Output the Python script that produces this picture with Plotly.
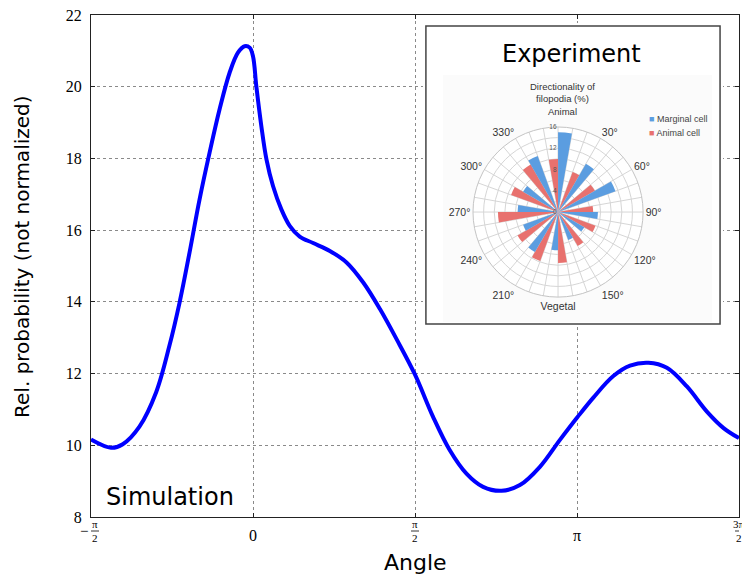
import math
import plotly.graph_objects as go

# Simulated relative probability along the angle (radians)
angle = [-1.571, -1.376, -1.263, -1.101, -0.939, -0.810, -0.712, -0.615, -0.518,
         -0.421, -0.324, -0.227, -0.146, -0.081, -0.032, 0.0, 0.032, 0.081, 0.130,
         0.194, 0.275, 0.356, 0.453, 0.583, 0.745, 0.907, 1.069, 1.231, 1.392,
         1.571, 1.745, 1.907, 2.070, 2.231, 2.410, 2.588, 2.782, 2.976, 3.145,
         3.300, 3.494, 3.656, 3.835, 4.013, 4.207, 4.401, 4.563, 4.712]
prob = [10.16, 9.93, 10.03, 10.52, 11.48, 12.78, 13.98, 15.38, 16.86,
        18.16, 19.37, 20.39, 20.95, 21.13, 21.09, 20.85, 20.02, 18.90, 17.98,
        17.23, 16.58, 16.12, 15.82, 15.64, 15.42, 15.10, 14.54, 13.80, 12.96,
        11.97, 10.80, 9.87, 9.21, 8.84, 8.73, 8.89, 9.40, 10.15, 10.78,
        11.33, 11.93, 12.22, 12.30, 12.16, 11.64, 10.94, 10.48, 10.20]

x_tick_vals = [-math.pi / 2, 0, math.pi / 2, math.pi, 3 * math.pi / 2]
x_tick_labels = ["−π/2", "0", "π/2", "π", "3π/2"]
y_tick_vals = [8, 10, 12, 14, 16, 18, 20, 22]
y_tick_labels = ["8", "10", "12", "14", "16", "18", "20", "22"]

# Experimental filopodia directionality (%), one value per 30° direction
direction_bins = [0, 30, 60, 90, 120, 150, 180, 210, 240, 270, 300, 330]
marginal_cell = [15.0, 10.5, 11.5, 7.5, 5.7, 5.6, 7.2, 8.7, 7.0, 7.6, 7.6, 11.2]
animal_cell = [10.0, 8.0, 8.0, 6.6, 7.5, 7.4, 9.6, 9.8, 8.8, 11.3, 9.4, 10.3]
compass_ticks = list(range(0, 360, 10))
compass_names = {30: "30°", 60: "60°", 90: "90°", 120: "120°", 150: "150°",
                 180: "Vegetal", 210: "210°", 240: "240°", 270: "270°",
                 300: "300°", 330: "330°"}
radial_ticks = [0, 2, 4, 6, 8, 10, 12, 14, 16]
radial_names = {0: "0", 4: "4", 8: "8", 12: "12", 16: "16"}

BLUE_BAR = "#5b9de0"
RED_BAR = "#e8716e"
SERIF = "Liberation Serif"
SANS = "DejaVu Sans"
ARIAL = "Liberation Sans"

fig = go.Figure()

fig.add_trace(go.Scatter(
    x=angle, y=prob, mode="lines",
    line=dict(color="#0000ff", width=4, shape="spline", smoothing=1.0),
    showlegend=False, hoverinfo="skip"))

# empty trace that carries the inset's frame subplot
fig.add_trace(go.Scatter(x=[], y=[], xaxis="x2", yaxis="y2",
                         showlegend=False, hoverinfo="skip"))

fig.add_trace(go.Barpolar(
    r=animal_cell, theta=[b - 5 for b in direction_bins], width=[10] * len(direction_bins),
    marker=dict(color=RED_BAR, line=dict(width=0)), name="Animal cell",
    showlegend=False, hoverinfo="skip", subplot="polar"))
fig.add_trace(go.Barpolar(
    r=marginal_cell, theta=[b + 5 for b in direction_bins], width=[10] * len(direction_bins),
    marker=dict(color=BLUE_BAR, line=dict(width=0)), name="Marginal cell",
    showlegend=False, hoverinfo="skip", subplot="polar"))

axis_common = dict(
    showline=True, linecolor="#222", linewidth=1.3, mirror="ticks",
    ticks="inside", ticklen=4, tickcolor="#222", tickwidth=1,
    showgrid=True, gridcolor="#8a8a8a", griddash="dot", gridwidth=1,
    zeroline=False)

fig.update_layout(
    width=742, height=580,
    margin=dict(l=91, r=3, t=15, b=63),
    paper_bgcolor="white", plot_bgcolor="white",
    xaxis=dict(range=[-math.pi / 2, 3 * math.pi / 2], tickmode="array",
               tickvals=x_tick_vals, showticklabels=False, domain=[0, 1], **axis_common),
    yaxis=dict(range=[8, 22], tickmode="array", tickvals=y_tick_vals,
               ticktext=y_tick_labels, ticklabelstandoff=5,
               tickfont=dict(family=SERIF, size=16, color="black"), domain=[0, 1],
               **axis_common),
    xaxis2=dict(domain=[0.5123, 0.9753], range=[-0.01, 1.01], anchor="y2", visible=False),
    yaxis2=dict(domain=[0.3785, 0.984], range=[-0.01, 1.01], anchor="x2", visible=False),
    polar=dict(
        domain=dict(x=[0.5895, 0.852], y=[0.438, 0.777]),
        bgcolor="white",
        angularaxis=dict(
            rotation=90, direction="clockwise", tickmode="array",
            tickvals=compass_ticks,
            ticktext=[compass_names.get(t, "") for t in compass_ticks],
            tickfont=dict(family=ARIAL, size=10.5, color="#333"),
            showline=True, linecolor="#c4c4c4", linewidth=1,
            gridcolor="#d6d6d6", gridwidth=1, ticks=""),
        radialaxis=dict(
            range=[0, 16], tickmode="array", tickvals=radial_ticks,
            ticktext=[radial_names.get(t, "") for t in radial_ticks],
            angle=90, side="counterclockwise", tickangle=90,
            tickfont=dict(family=ARIAL, size=6.5, color="#555"),
            gridcolor="#d6d6d6", gridwidth=1, showline=False, ticks=""),
    ),
)

# inset frame and the faint panel behind the rose chart
fig.add_shape(type="rect", xref="x2", yref="y2", x0=0, x1=1, y0=0, y1=1,
              fillcolor="white", line=dict(color="#444", width=1.5), layer="below")
fig.add_shape(type="rect", xref="x2", yref="y2", x0=0.058, x1=0.973, y0=0.007, y1=0.836,
              fillcolor="#fbfbfb", line=dict(width=0), layer="below")

annotations = []

# x tick labels, fractions stacked over a short bar
bar_y = -0.0279
for val, lab in zip(x_tick_vals, x_tick_labels):
    if "/" in lab:
        num, den = lab.split("/")
        shift = 0
        if num.startswith("−"):
            num = num[1:]
            shift = 4
            annotations.append(dict(x=val, xref="x", y=bar_y, yref="paper", text="−",
                                    showarrow=False, xshift=-7, yanchor="middle",
                                    font=dict(family=SERIF, size=15, color="black")))
        annotations.append(dict(x=val, xref="x", y=bar_y, yref="paper", text=num,
                                showarrow=False, xshift=shift, yanchor="bottom", yshift=-1,
                                font=dict(family=SERIF, size=11, color="black")))
        annotations.append(dict(x=val, xref="x", y=bar_y, yref="paper", text=den,
                                showarrow=False, xshift=shift, yanchor="top", yshift=1,
                                font=dict(family=SERIF, size=11, color="black")))
        fig.add_shape(type="line", xref="x", yref="paper", xsizemode="pixel",
                      xanchor=val, x0=shift - 4, x1=shift + 4, y0=bar_y, y1=bar_y,
                      line=dict(color="black", width=0.8))
    else:
        annotations.append(dict(x=val, xref="x", y=-0.0359, yref="paper", text=lab,
                                showarrow=False, yanchor="middle",
                                font=dict(family=SERIF, size=16, color="black")))

annotations += [
    dict(x=0.5, y=-0.0916, xref="paper", yref="paper", text="Angle", showarrow=False,
         yanchor="middle", font=dict(family=SANS, size=22, color="black")),
    dict(x=-0.1065, y=0.52, xref="paper", yref="paper",
         text="Rel. probability (not normalized)", showarrow=False, textangle=-90,
         xanchor="center", yanchor="middle", font=dict(family=SANS, size=20, color="black")),
    dict(x=0.02, y=0.04, xref="paper", yref="paper", text="Simulation", showarrow=False,
         xanchor="left", yanchor="middle", font=dict(family=SANS, size=24, color="black")),
    dict(x=0.742, y=0.922, xref="paper", yref="paper", text="Experiment", showarrow=False,
         xanchor="center", yanchor="middle", font=dict(family=SANS, size=24, color="black")),
    dict(x=0.727, y=0.833, xref="paper", yref="paper",
         text="Directionality of<br>filopodia (%)<br>Animal", showarrow=False,
         xanchor="center", yanchor="middle", align="center",
         font=dict(family=ARIAL, size=9.5, color="#333")),
    dict(x=0.858, y=0.793, xref="paper", yref="paper",
         text=f"<span style='color:{BLUE_BAR}'>■</span> Marginal cell", showarrow=False,
         xanchor="left", yanchor="middle", font=dict(family=ARIAL, size=9, color="#444")),
    dict(x=0.858, y=0.765, xref="paper", yref="paper",
         text=f"<span style='color:{RED_BAR}'>■</span> Animal cell", showarrow=False,
         xanchor="left", yanchor="middle", font=dict(family=ARIAL, size=9, color="#444")),
]
fig.update_layout(annotations=annotations)

fig.write_html("out.html")
